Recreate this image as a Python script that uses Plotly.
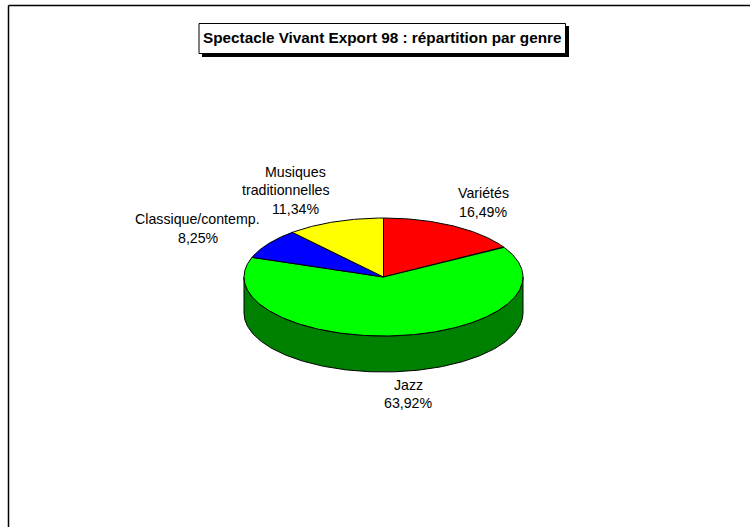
import numpy as np
import plotly.graph_objects as go

TITLE = "Spectacle Vivant Export 98 : répartition par genre"
categories = ["Variétés", "Jazz", "Classique/contemp.", "Musiques traditionnelles"]
values = [16.49, 63.92, 8.25, 11.34]
percent_labels = ["16,49%", "63,92%", "8,25%", "11,34%"]

COLORS = ["#ff0000", "#00ff00", "#0000ff", "#ffff00"]
WALL = "#008000"
CX, CY, RX, RY, DEPTH = 383.5, 277.0, 139.5, 59.0, 36.0
FS = 14.2
FONT = "Liberation Sans"


def ellipse(deg, dy=0.0):
    t = np.radians(deg)
    return CX + RX * np.sin(t), CY - RY * np.cos(t) + dy


fig = go.Figure()

# Side wall (front half of the disc)
t = np.linspace(90, 270, 181)
x_top, y_top = ellipse(t)
x_bot, y_bot = ellipse(t[::-1], DEPTH)
fig.add_trace(go.Scatter(
    x=np.r_[x_top, x_bot, x_top[0]], y=np.r_[y_top, y_bot, y_top[0]],
    mode="lines", fill="toself", fillcolor=WALL,
    line=dict(color="black", width=1), hoverinfo="skip", showlegend=False))

# Top face slices, clockwise from 12 o'clock
total = sum(values)
start = 0.0
for name, v, c in zip(categories, values, COLORS):
    sweep = v / total * 360
    a = np.linspace(start, start + sweep, max(int(sweep) * 2, 8))
    xs, ys = ellipse(a)
    fig.add_trace(go.Scatter(
        x=np.r_[CX, xs, CX], y=np.r_[CY, ys, CY],
        mode="lines", fill="toself", fillcolor=c, name=name,
        line=dict(color="black", width=1), showlegend=False))
    start += sweep

anns = []


def txt(s, x, y):
    anns.append(dict(x=x, y=y, text=s, showarrow=False, xref="x", yref="y",
                     xanchor="center", yanchor="middle",
                     font=dict(family=FONT, size=FS, color="black")))


txt(categories[0], 483, 193)
txt(percent_labels[0], 483, 212)
txt(categories[1], 408, 385)
txt(percent_labels[1], 408, 403)
txt(categories[2], 197.5, 219)
txt(percent_labels[2], 198, 238)
mus_a, mus_b = categories[3].split(" ")
txt(mus_a, 295, 172)
txt(mus_b, 285.5, 190)
txt(percent_labels[3], 295, 209)

anns.append(dict(x=381.5, y=37.5, text="<b>" + TITLE + "</b>", showarrow=False,
                 xref="x", yref="y", xanchor="center", yanchor="middle",
                 font=dict(family=FONT, size=15.3, color="black")))

shapes = [
    dict(type="rect", x0=202, y0=26, x1=569, y1=57, fillcolor="black",
         line=dict(color="black", width=0)),
    dict(type="rect", x0=199, y0=23.5, x1=565.5, y1=53.5, fillcolor="white",
         line=dict(color="black", width=1)),
    dict(type="line", x0=8.5, y0=527, x1=8.5, y1=5.5, line=dict(color="black", width=1.5)),
    dict(type="line", x0=8.5, y0=5.5, x1=750, y1=5.5, line=dict(color="black", width=1.5)),
]

fig.update_layout(
    width=750, height=527, margin=dict(l=0, r=0, t=0, b=0),
    paper_bgcolor="white", plot_bgcolor="white",
    xaxis=dict(range=[0, 750], visible=False, fixedrange=True),
    yaxis=dict(range=[527, 0], visible=False, fixedrange=True),
    annotations=anns, shapes=shapes, showlegend=False,
)

fig.write_html("out.html", config=dict(displayModeBar=False),
               post_script="document.body.style.margin='0';document.body.style.overflow='hidden';")
